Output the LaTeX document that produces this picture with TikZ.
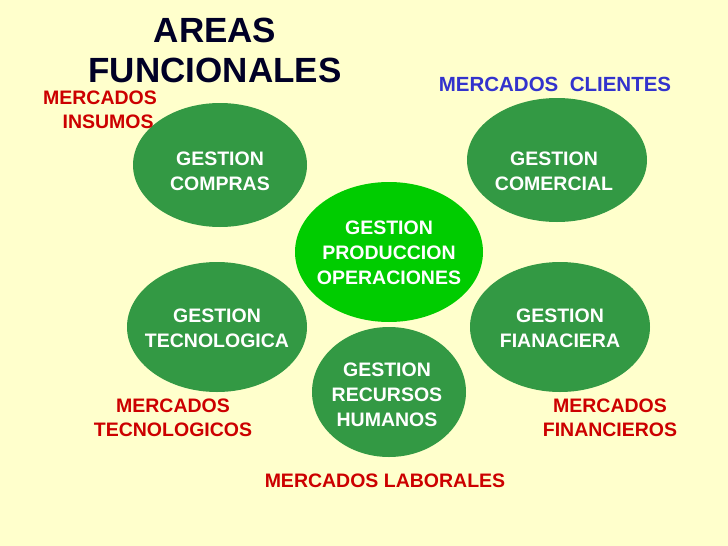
\documentclass[tikz,border=0pt]{standalone}
\usepackage{fontspec}
\setmainfont{Liberation Sans}
\definecolor{bg}{HTML}{FFFFCC}
\definecolor{dg}{HTML}{339944}
\definecolor{lg}{HTML}{00CC00}
\definecolor{rd}{HTML}{CC0000}
\definecolor{bl}{HTML}{3333CC}
\begin{document}
\begin{tikzpicture}[x=1pt,y=-1pt,
  mk/.style={text=rd,font=\bfseries\fontsize{19.5}{24}\selectfont,align=center},
  tx/.style={text=white,font=\bfseries\fontsize{19.5}{25}\selectfont,align=center}]
\fill[bg] (0,0) rectangle (728,546);
\useasboundingbox (0,0) rectangle (728,546);
\fill[dg] (220,165) ellipse [x radius=87,y radius=62];
\fill[dg] (557,160) ellipse [x radius=90,y radius=62];
\fill[dg] (217,327) ellipse [x radius=90,y radius=65];
\fill[dg] (560,327) ellipse [x radius=90,y radius=65];
\fill[dg] (389,392) ellipse [x radius=77,y radius=65];
\fill[lg] (389,252) ellipse [x radius=94,y radius=70];
\node[tx] (compras) at (220,171) {GESTION\\COMPRAS};
\node[tx] (comercial) at (554,171) {GESTION\\COMERCIAL};
\node[tx] (prod) at (389,253) {GESTION\\PRODUCCION\\OPERACIONES};
\node[tx] (tec) at (217,328) {GESTION\\TECNOLOGICA};
\node[tx] (fin) at (560,328) {GESTION\\FIANACIERA};
\node[tx] (rrhh) at (387,395) {GESTION\\RECURSOS\\HUMANOS};
\node[text=black!85!blue,font=\bfseries\fontsize{35}{40}\selectfont,align=center] (title) at (215,50) {AREAS\\FUNCIONALES};
\node[text=bl,font=\bfseries\fontsize{20.5}{20}\selectfont] (cli) at (555,84) {MERCADOS\ \ CLIENTES};
\node[mk] (ins) at (100,110) {MERCADOS\\\ \ \ INSUMOS};
\node[mk] (mtec) at (173,418) {MERCADOS\\TECNOLOGICOS};
\node[mk] (mfin) at (610,418) {MERCADOS\\FINANCIEROS};
\node[mk] (lab) at (385,481) {MERCADOS LABORALES};
\end{tikzpicture}
\end{document}
